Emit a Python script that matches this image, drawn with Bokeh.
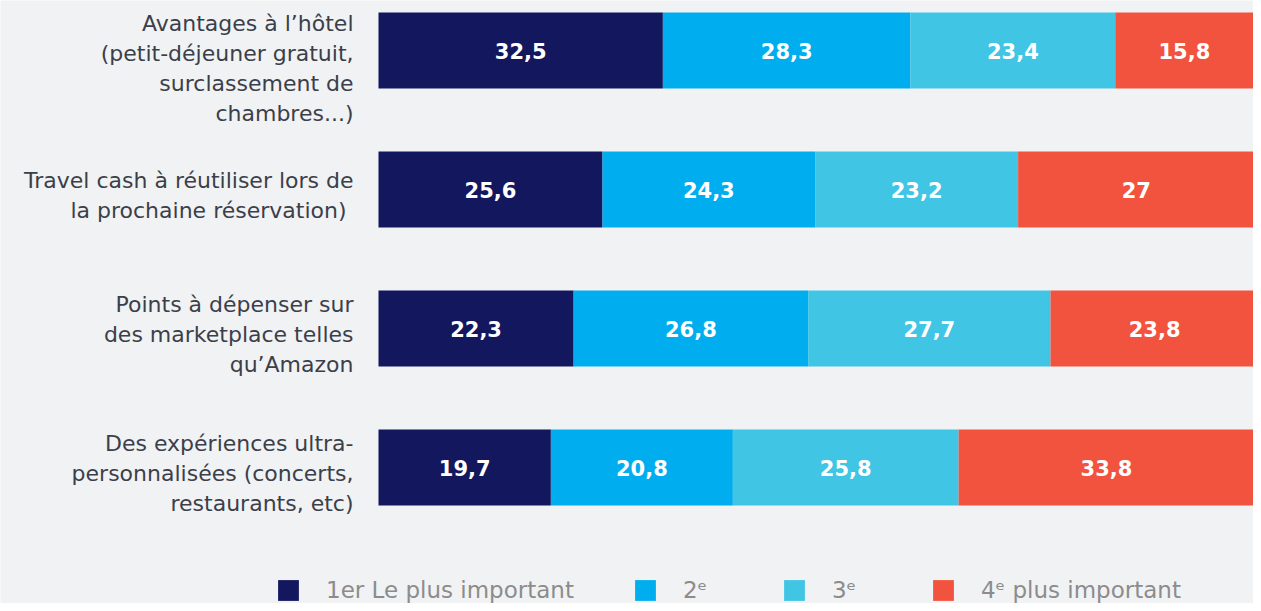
from bokeh.plotting import figure
from bokeh.models import ColumnDataSource, Range1d
from bokeh.core.properties import value
from bokeh.embed import file_html
from bokeh.resources import INLINE

# ---- data ----
categories = [
    "Avantages à l’hôtel\n(petit-déjeuner gratuit,\nsurclassement de\nchambres...)",
    "Travel cash à réutiliser lors de\nla  prochaine réservation)",
    "Points à dépenser sur\ndes marketplace telles\nqu’Amazon",
    "Des expériences ultra-\npersonnalisées (concerts,\nrestaurants, etc)",
]
series_names = ["1er Le plus important", "2ᵉ", "3ᵉ", "4ᵉ plus important"]
rank1 = [32.5, 25.6, 22.3, 19.7]
rank2 = [28.3, 24.3, 26.8, 20.8]
rank3 = [23.4, 23.2, 27.7, 25.8]
rank4 = [15.8, 27.0, 23.8, 33.8]

# ---- style ----
colors = ["#13175e", "#00aeef", "#40c5e5", "#f2533f"]
BG = "#f1f2f4"
FONT = "DejaVu Sans"
W, H = 1253, 603
LEFT_PX = 378          # pixel where the bars start
ROW_PX = 139           # pixel distance between rows
TOP_PX = 50            # centre of first row from top
BAR_PX = 76

n = len(categories)
ys = [n - 1 - i for i in range(n)]
x_start = -100.0 * LEFT_PX / (W - LEFT_PX)
y_end = (n - 1) + TOP_PX / ROW_PX
y_start = y_end - H / ROW_PX

p = figure(width=W, height=H, output_backend="svg", toolbar_location=None,
           x_range=Range1d(x_start, 100), y_range=Range1d(y_start, y_end),
           min_border=0, min_border_left=0, min_border_right=0,
           min_border_top=0, min_border_bottom=0)
p.background_fill_color = BG
p.border_fill_color = BG
p.outline_line_color = None
p.xgrid.visible = False
p.ygrid.visible = False
p.xaxis.visible = False
p.yaxis.visible = False

src = ColumnDataSource(dict(y=ys, r1=rank1, r2=rank2, r3=rank3, r4=rank4))
stackers = ["r1", "r2", "r3", "r4"]
rends = p.hbar_stack(stackers, y="y", height=BAR_PX / ROW_PX, color=colors,
                     line_color=None, source=src, legend_label=series_names)

# value labels at segment centres
lx, ly, lt = [], [], []
all_series = [rank1, rank2, rank3, rank4]
for i in range(n):
    left = 0.0
    for s in all_series:
        v = s[i]
        lx.append(left + v / 2)
        ly.append(ys[i])
        lt.append(f"{v:g}".replace(".", ","))
        left += v
p.text(x=lx, y=ly, text=lt, text_align="center", text_baseline="middle",
       text_color="white", text_font=value(FONT), text_font_style="bold",
       text_font_size="21px")

# category labels (multi-line, right aligned left of the bars)
LBL_SIZE = 22
LINE_H = 1.2
LINE_PX = 29.5
offsets = []
for i, c in enumerate(categories):
    half = (c.count("\n") + 1) * LINE_PX / 2
    centre = TOP_PX + i * ROW_PX
    offsets.append(max(6.0, half - centre + 9))
csrc = ColumnDataSource(dict(x=[0] * n, y=ys, t=categories, yo=offsets))
p.text(x="x", y="y", text="t", y_offset="yo", x_offset=-25, source=csrc,
       text_align="right", text_baseline="middle", text_color="#3b3f4a",
       text_font=value(FONT), text_font_size=f"{LBL_SIZE}px",
       text_line_height=LINE_H)

leg = p.legend[0]
leg.orientation = "horizontal"
leg.location = (275, 0)
leg.background_fill_alpha = 0
leg.border_line_color = None
leg.padding = 0
leg.margin = 0
leg.glyph_width = 26
leg.glyph_height = 26
leg.label_standoff = 25
leg.label_width = 40
leg.spacing = 58
leg.label_text_font = FONT
leg.label_text_font_size = "23px"
leg.label_text_color = "#8c8c8c"

open("out.html", "w").write(file_html(p, INLINE))
